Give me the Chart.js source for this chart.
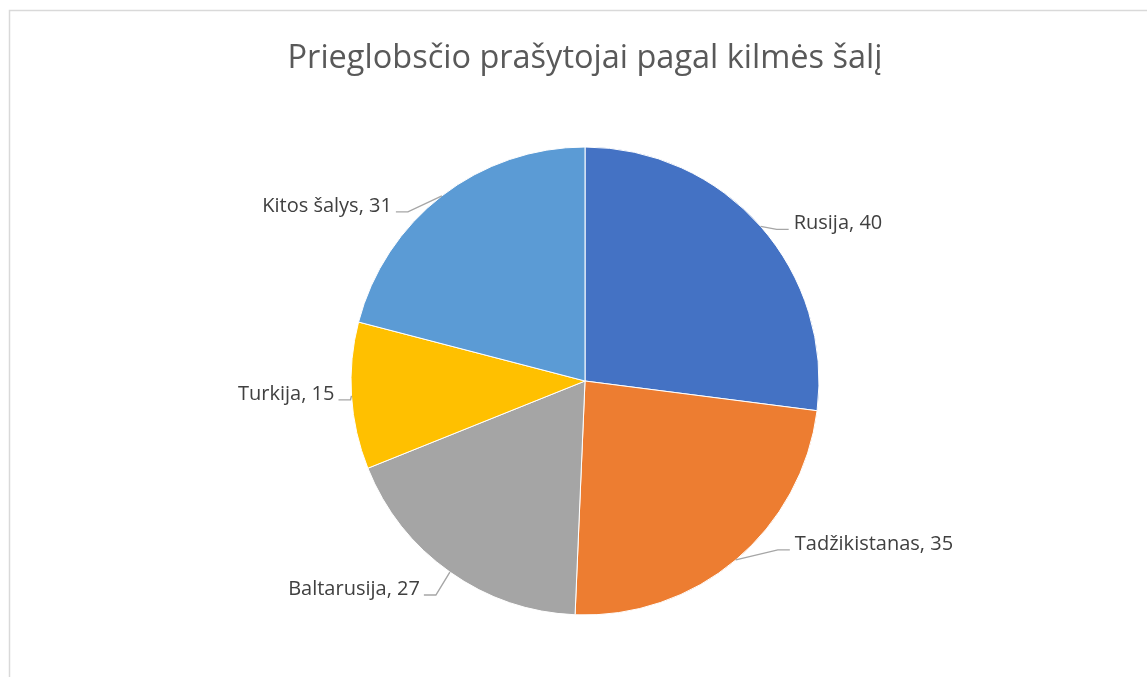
<!DOCTYPE html>
<html>
<head>
<meta charset="utf-8">
<script src="https://cdn.jsdelivr.net/npm/chart.js@4"></script>
<style>
  html, body { margin: 0; padding: 0; background: #ffffff; }
  #wrap { width: 1147px; height: 677px; }
</style>
</head>
<body>
<div id="wrap"><canvas id="pie_chart"></canvas></div>
<script>
const title = 'Prieglobsčio prašytojai pagal kilmės šalį';
const countries = ['Rusija', 'Tadžikistanas', 'Baltarusija', 'Turkija', 'Kitos šalys'];
const applicants = [40, 35, 27, 15, 31];
const sliceColors = ['#4472c4', '#ed7d31', '#a5a5a5', '#ffc000', '#5b9bd5'];

// where each callout sits relative to the slice edge (Excel style)
const calloutShift = [[33, -3], [59, -16], [-30, 17], [-17, -2], [-50, 10]];

const frameAndLabels = {
    id: 'frameAndLabels',
    beforeDraw(chart) {
        const c = chart.ctx;
        c.save();
        c.fillStyle = '#ffffff';
        c.fillRect(0, 0, chart.width, chart.height);
        // chart border (only top + left visible in crop)
        c.strokeStyle = '#d9d9d9';
        c.lineWidth = 1.5;
        c.beginPath();
        c.moveTo(9.5, chart.height);
        c.lineTo(9.5, 10.5);
        c.lineTo(chart.width, 10.5);
        c.stroke();
        // title
        c.fillStyle = '#595959';
        c.font = '32.5px "Open Sans"';
        c.textAlign = 'center';
        c.textBaseline = 'alphabetic';
        c.fillText(title, 585, 68);
        c.restore();
    },
    afterDatasetsDraw(chart) {
        const c = chart.ctx;
        const arcs = chart.getDatasetMeta(0).data;
        c.save();
        c.font = '20px "Open Sans"';
        c.textBaseline = 'middle';
        arcs.forEach((arc, i) => {
            const mid = (arc.startAngle + arc.endAngle) / 2;
            const ex = arc.x + Math.cos(mid) * arc.outerRadius;
            const ey = arc.y + Math.sin(mid) * arc.outerRadius;
            const tx = ex + calloutShift[i][0];
            const ty = ey + calloutShift[i][1];
            const right = calloutShift[i][0] > 0;
            const lineY = ty + 6;
            const endX = right ? tx - 5 : tx + 4;
            const elbowX = right ? endX - 12 : endX + 12;
            c.strokeStyle = '#a6a6a6';
            c.lineWidth = 1.4;
            c.beginPath();
            c.moveTo(ex, ey);
            c.lineTo(elbowX, lineY);
            c.lineTo(endX, lineY);
            c.stroke();
            c.fillStyle = '#404040';
            c.textAlign = right ? 'left' : 'right';
            c.fillText(countries[i] + ', ' + applicants[i], tx, ty);
        });
        c.restore();
    }
};

const ctx = document.getElementById('pie_chart').getContext('2d');

new Chart(ctx, {
    type: 'pie',
    data: {
        labels: countries,
        datasets: [{
            data: applicants,
            backgroundColor: sliceColors,
            borderColor: '#ffffff',
            borderWidth: 1,
            hoverOffset: 0,
            offset: 0
        }]
    },
    options: {
        responsive: true,
        maintainAspectRatio: false,
        animation: false,
        layout: {
            padding: { top: 146.5, bottom: 61.5, left: 350.5, right: 327.5 }
        },
        plugins: {
            legend: { display: false },
            title: { display: false },
            tooltip: { enabled: false }
        }
    },
    plugins: [frameAndLabels]
});
</script>
</body>
</html>
